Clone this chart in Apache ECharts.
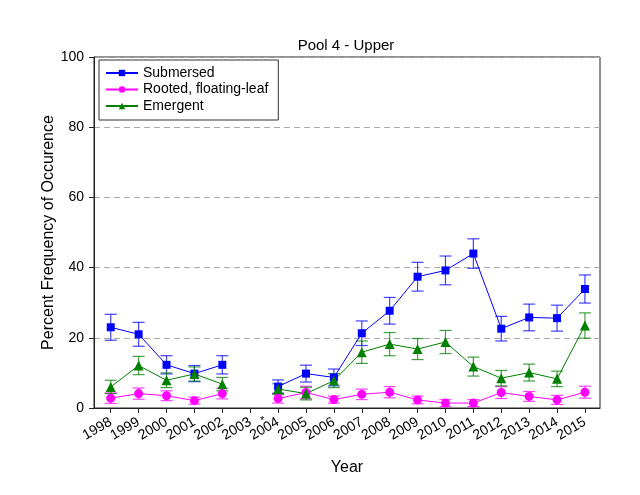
<!DOCTYPE html>
<html>
<head>
<meta charset="utf-8">
<script src="https://cdn.jsdelivr.net/npm/echarts@6/dist/echarts.min.js"></script>
<style>html,body{margin:0;padding:0;background:#fff}#c{width:640px;height:495px}</style>
</head>
<body>
<div id="c"></div>
<script>
var years = [1998,1999,2000,2001,2002,2003,2004,2005,2006,2007,2008,2009,2010,2011,2012,2013,2014,2015];
var submersed    = [23.0,21.0,12.3,9.8,12.3,null,6.1,9.8,8.7,21.3,27.7,37.4,39.2,44.0,22.6,25.8,25.6,33.9];
var submersedErr = [3.7,3.4,2.6,2.3,2.6,null,1.9,2.4,2.4,3.5,3.8,4.1,4.1,4.2,3.5,3.8,3.7,4.0];
var rooted       = [2.8,4.1,3.5,2.1,4.1,null,2.7,4.4,2.4,3.9,4.5,2.3,1.4,1.4,4.4,3.3,2.3,4.5];
var rootedErr    = [1.5,1.6,1.4,1.0,1.5,null,1.3,1.8,1.0,1.5,1.6,1.1,1.0,1.0,1.7,1.4,1.3,1.7];
var emergent     = [6.0,12.1,7.9,9.7,6.8,null,5.4,4.1,7.8,15.9,18.2,16.8,18.8,11.8,8.5,10.1,8.3,23.5];
var emergentErr  = [1.9,2.6,2.1,2.0,1.9,null,1.5,1.8,2.0,3.2,3.3,3.0,3.3,2.7,2.2,2.4,2.2,3.6];
var yTicks = [0,20,40,60,80,100];

var FONT = "Arial, 'Liberation Sans', sans-serif";

function lineData(vals){ return years.map(function(y,i){ return [y, vals[i]==null ? '-' : vals[i]]; }); }
function errData(vals, errs){
  var out = [];
  years.forEach(function(y,i){ if(vals[i]!=null) out.push([y, vals[i]-errs[i], vals[i]+errs[i]]); });
  return out;
}
function errSeries(name, vals, errs, color){
  return {
    type:'custom', name:name + ' error', data: errData(vals, errs), z: 2,
    encode:{x:0, y:[1,2]},
    renderItem: function(params, api){
      var x = api.value(0);
      var lo = api.coord([x, api.value(1)]);
      var hi = api.coord([x, api.value(2)]);
      var w = 6;
      var st = {stroke: color, lineWidth: 1.2, opacity: 0.75};
      return {type:'group', children:[
        {type:'line', shape:{x1:lo[0], y1:lo[1], x2:hi[0], y2:hi[1]}, style:st},
        {type:'line', shape:{x1:lo[0]-w, y1:lo[1], x2:lo[0]+w, y2:lo[1]}, style:st},
        {type:'line', shape:{x1:hi[0]-w, y1:hi[1], x2:hi[0]+w, y2:hi[1]}, style:st}
      ]};
    },
    silent:true
  };
}
function lineSeries(name, vals, color, symbol, size){
  return {type:'line', name:name, data: lineData(vals), connectNulls:false,
    symbol:symbol, symbolSize:size, z:3,
    itemStyle:{color:color}, lineStyle:{color:color, width:1}, animation:false};
}

var chart = echarts.init(document.getElementById('c'), null, {renderer:'canvas'});
chart.setOption({
  animation:false,
  backgroundColor:'#fff',
  title:{text:'Pool 4 - Upper', left:341, top:33, textAlign:'center',
    textStyle:{fontFamily:FONT, fontSize:15, fontWeight:'normal', color:'#000'}},
  grid:{left:94, right:40, top:57, bottom:87, show:true, borderColor:'#222', borderWidth:1},
  legend:{
    orient:'vertical', left:99, top:60, padding:[6,10,7,6],
    borderColor:'#333', borderWidth:1, itemWidth:32, itemHeight:8, itemGap:2.5,
    textStyle:{fontFamily:FONT, fontSize:14, color:'#000'},
    data:['Submersed','Rooted, floating-leaf','Emergent']
  },
  xAxis:{
    type:'value', min:1997.4, max:2015.54,
    name:'Year', nameLocation:'middle', nameGap:52,
    nameTextStyle:{fontFamily:FONT, fontSize:16, color:'#000'},
    axisLine:{show:true, lineStyle:{color:'#222', width:1}},
    axisTick:{show:true, length:5, customValues:years, lineStyle:{color:'#222'}},
    axisLabel:{customValues:years, rotate:30, margin:13, fontFamily:FONT, fontSize:14, color:'#000',
      formatter:function(v){ return String(v); }},
    splitLine:{show:false}
  },
  yAxis:{
    type:'value', min:0, max:100, interval:20,
    name:'Percent Frequency of Occurence', nameLocation:'middle', nameGap:37, nameMoveOverlap:false,
    nameTextStyle:{fontFamily:FONT, fontSize:16, color:'#000'},
    axisLine:{show:true, lineStyle:{color:'#222', width:1}},
    axisTick:{show:true, length:5, lineStyle:{color:'#222'}},
    axisLabel:{fontFamily:FONT, fontSize:14, color:'#000', margin:10},
    splitLine:{show:true, lineStyle:{color:'#aaa', type:[6,4], width:1}}
  },
  graphic:[{type:'text', left:260, top:415, style:{text:'*', fontFamily:FONT, fontSize:11, fill:'#000'}}],
  series:[
    errSeries('Submersed', submersed, submersedErr, '#0000ff'),
    lineSeries('Submersed', submersed, '#0000ff', 'rect', 8),
    errSeries('Rooted, floating-leaf', rooted, rootedErr, '#ff00ff'),
    lineSeries('Rooted, floating-leaf', rooted, '#ff00ff', 'circle', 9),
    errSeries('Emergent', emergent, emergentErr, '#008000'),
    lineSeries('Emergent', emergent, '#008000', 'triangle', 10)
  ]
});
</script>
</body>
</html>
